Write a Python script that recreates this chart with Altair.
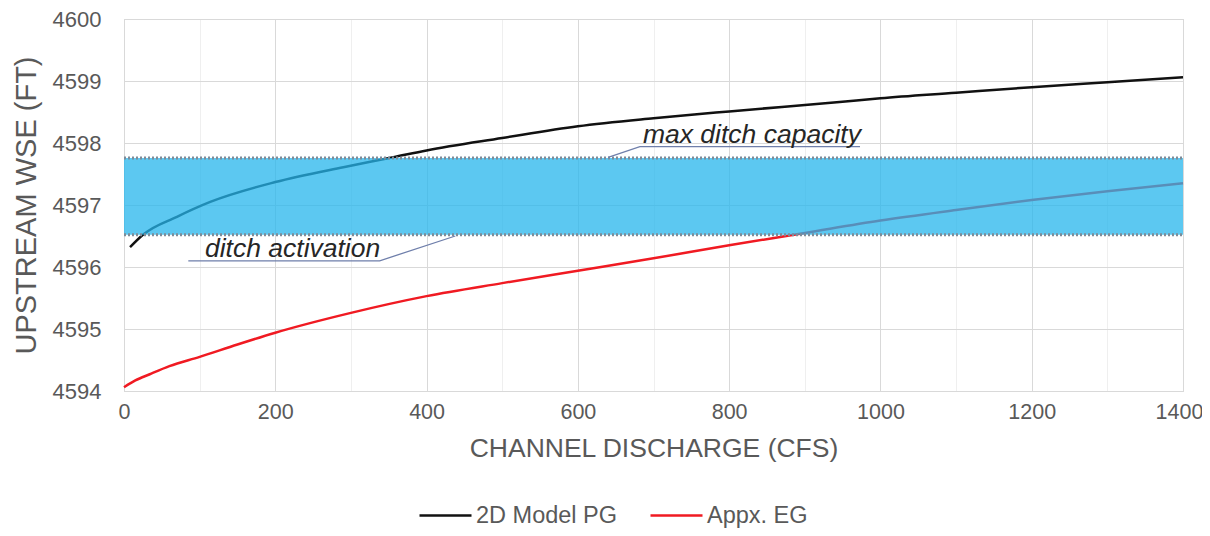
import altair as alt
import pandas as pd
import numpy as np

# ---- data ----
pg_q = [8, 25, 70, 114, 200, 290, 356, 400, 500, 600, 700, 800, 946, 1000, 1100, 1200, 1300, 1400]
pg_wse = [4596.32, 4596.52, 4596.81, 4597.05, 4597.37, 4597.61, 4597.77, 4597.88, 4598.08, 4598.27,
          4598.40, 4598.51, 4598.66, 4598.72, 4598.81, 4598.90, 4598.98, 4599.06]

eg_q = [0, 15, 34, 60, 100, 150, 200, 300, 400, 500, 600, 700, 800, 900, 1000, 1100, 1200, 1300, 1400]
eg_wse = [4594.06, 4594.17, 4594.27, 4594.40, 4594.55, 4594.75, 4594.94, 4595.26, 4595.53, 4595.74,
          4595.94, 4596.14, 4596.35, 4596.55, 4596.75, 4596.92, 4597.08, 4597.22, 4597.35]

series_names = ["2D Model PG", "Appx. EG"]
series_colors = ["#111111", "#f01a22"]

band_low = 4596.52     # ditch activation
band_high = 4597.76    # max ditch capacity
q_min, q_max = 0, 1400

ann_labels = ["max ditch capacity", "ditch activation"]
ann_text_q = [686, 107]
ann_text_wse = [4598.00, 4596.16]
# underline + leader polyline for each annotation (points in order)
ann_path_q = [[973, 682, 640], [85, 338, 438]]
ann_path_wse = [[4597.94, 4597.94, 4597.77], [4596.10, 4596.10, 4596.50]]

# ---- tables ----
lines_df = pd.concat([
    pd.DataFrame({"q": pg_q, "wse": pg_wse, "series": series_names[0]}),
    pd.DataFrame({"q": eg_q, "wse": eg_wse, "series": series_names[1]}),
])
band_df = pd.DataFrame({"q0": [q_min], "q1": [q_max], "lo": [band_low], "hi": [band_high]})
edge_df = pd.DataFrame({"q0": [q_min, q_min], "q1": [q_max, q_max], "wse": [band_low, band_high]})
text_df = pd.DataFrame({"label": ann_labels, "q": ann_text_q, "wse": ann_text_wse})
rows = []
for k in range(len(ann_path_q)):
    for i, (a, b) in enumerate(zip(ann_path_q[k], ann_path_wse[k])):
        rows.append({"grp": k, "i": i, "q": a, "wse": b})
lead_df = pd.DataFrame(rows)

GRAY = "#595959"
FONT = "Liberation Sans"

x_vals = list(range(q_min, q_max + 1, 50))
y_vals = [float(v) for v in np.arange(4594, 4600.001, 0.25)]

x_scale = alt.Scale(domain=[q_min, q_max], nice=False, zero=False)
y_scale = alt.Scale(domain=[4594, 4600], nice=False, zero=False)

x_axis = alt.Axis(
    values=x_vals, format="d",
    labelExpr="datum.value % 200 === 0 ? datum.label : ''",
    labelOffset={"condition": {"test": f"datum.value === {q_max}", "value": -4}, "value": 0},
    gridColor={"condition": {"test": "datum.value % 200 === 0", "value": "#d9d9d9"}, "value": "#efefef"},
    grid=True, ticks=False, domain=False, labelOverlap=False, labelFlush=False,
    labelFontSize=21.5, labelColor=GRAY, labelPadding=10, labelFont=FONT,
    title="CHANNEL DISCHARGE (CFS)", titleFontSize=26.5, titleColor=GRAY,
    titleFontWeight="normal", titleFont=FONT, titlePadding=13,
)
y_axis = alt.Axis(
    values=y_vals, format="d",
    labelExpr="datum.value % 1 === 0 ? datum.label : ''",
    gridColor={"condition": {"test": "datum.value % 1 === 0", "value": "#d9d9d9"}, "value": "#efefef"},
    grid=True, ticks=False, domain=False, labelOverlap=False, labelFlush=False,
    labelFontSize=22, labelColor=GRAY, labelPadding=23, labelFont=FONT,
    title="UPSTREAM WSE (FT)", titleFontSize=29, titleColor=GRAY,
    titleFontWeight="normal", titleFont=FONT, titlePadding=11,
)

lines = alt.Chart(lines_df).mark_line(strokeWidth=2.5, interpolate="monotone").encode(
    x=alt.X("q:Q", scale=x_scale, axis=x_axis),
    y=alt.Y("wse:Q", scale=y_scale, axis=y_axis),
    color=alt.Color("series:N", scale=alt.Scale(domain=series_names, range=series_colors),
                    legend=alt.Legend(title=None, orient="none", direction="horizontal",
                                      legendX=294, legendY=469, symbolType="stroke",
                                      symbolSize=2704, symbolStrokeWidth=2.5,
                                      labelFontSize=23.5, labelColor=GRAY, labelFont=FONT,
                                      columnPadding=27, labelOffset=3)),
)

band = alt.Chart(band_df).mark_rect(color="#26b6ec", opacity=0.75).encode(
    x=alt.X("q0:Q", scale=x_scale), x2="q1:Q",
    y=alt.Y("lo:Q", scale=y_scale), y2="hi:Q",
)

edges = alt.Chart(edge_df).mark_rule(color="#7d8c99", strokeWidth=3, strokeDash=[2, 2]).encode(
    x=alt.X("q0:Q", scale=x_scale), x2="q1:Q",
    y=alt.Y("wse:Q", scale=y_scale),
)

leaders = alt.Chart(lead_df).mark_line(color="#6f7fab", strokeWidth=1.3).encode(
    x=alt.X("q:Q", scale=x_scale), y=alt.Y("wse:Q", scale=y_scale),
    detail="grp:N", order="i:Q",
)

texts = alt.Chart(text_df).mark_text(
    align="left", baseline="alphabetic", fontStyle="italic", fontSize=26.5,
    color="#262626", font=FONT,
).encode(
    x=alt.X("q:Q", scale=x_scale), y=alt.Y("wse:Q", scale=y_scale), text="label:N",
)

chart = alt.layer(lines, band, edges, leaders, texts).properties(
    width=1059, height=372,
    autosize=alt.AutoSizeParams(type="none"),
    padding={"left": 116, "top": 11, "right": 19, "bottom": 137},
    background="white",
).configure_view(stroke="#d0d0d0", strokeWidth=1)

chart.save("out.html", embed_options={"renderer": "svg", "actions": False})
